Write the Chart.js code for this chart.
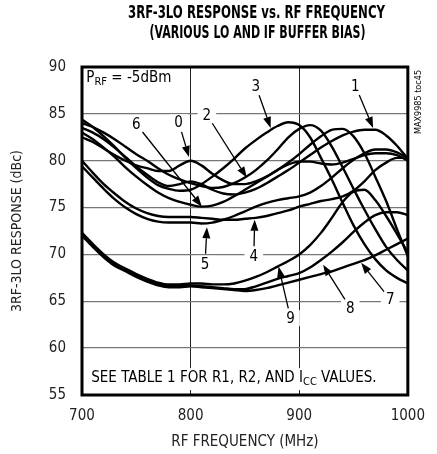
<!DOCTYPE html>
<html>
<head>
<meta charset="utf-8">
<script src="https://cdn.jsdelivr.net/npm/chart.js@4.4.1/dist/chart.umd.min.js"></script>
<style>
html,body{margin:0;padding:0;background:#fff;}
#wrap{width:437px;height:454px;position:relative;}
</style>
</head>
<body>
<div id="wrap"><canvas id="c" width="437" height="454"></canvas></div>
<script>
// ---- data ----
const freq = [700,710,720,730,740,750,760,770,780,790,800,810,820,830,840,850,860,870,880,890,900,910,920,930,940,950,960,970,980,990,1000];
const curve0 = [82.5,82.0,81.3,80.6,80.0,79.5,79.2,78.9,78.9,79.5,80.0,79.5,78.6,77.9,77.5,77.5,77.8,78.3,79.0,79.8,80.7,81.7,82.6,83.3,83.4,82.6,80.8,78.3,75.7,72.7,69.8];
const curve1 = [83.5,83.0,82.3,81.4,80.4,79.4,78.5,77.7,77.3,77.5,77.8,77.5,76.9,76.5,76.4,76.6,77.0,77.6,78.3,79.0,79.8,80.6,81.4,82.1,82.7,83.1,83.3,83.3,82.7,81.6,80.2];
const curve2 = [84.0,83.6,83.0,82.3,81.5,80.7,80.0,79.2,78.5,78.0,77.6,77.3,77.1,77.2,77.6,78.2,79.0,80.0,81.2,82.5,83.4,83.8,83.2,81.5,79.3,77.0,74.8,72.7,70.8,69.4,68.3];
const curve3 = [84.4,83.6,82.6,81.5,80.3,79.2,78.2,77.4,77.0,76.8,76.9,77.5,78.3,79.2,80.2,81.3,82.2,83.0,83.7,84.1,83.8,82.5,80.3,78.0,75.5,73.1,71.1,69.5,68.3,67.5,66.9];
const curve4 = [80.0,78.7,77.5,76.5,75.6,74.9,74.4,74.1,74.0,74.0,74.0,73.9,73.8,73.7,73.7,73.8,73.9,74.1,74.4,74.7,75.1,75.4,75.7,75.9,76.2,76.8,77.8,79.0,79.8,80.3,80.3];
const curve5 = [79.4,78.2,77.0,75.9,75.0,74.3,73.8,73.5,73.4,73.4,73.4,73.3,73.4,73.7,74.1,74.6,75.1,75.5,75.8,76.0,76.2,76.6,77.3,78.2,79.2,80.1,80.8,81.2,81.2,80.9,80.3];
const curve6 = [83.0,82.3,81.4,80.4,79.3,78.3,77.4,76.6,76.0,75.6,75.3,75.1,75.2,75.6,76.2,76.9,77.6,78.3,79.0,79.6,79.9,79.9,79.7,79.6,79.8,80.2,80.6,80.8,80.8,80.6,80.0];
const curve7 = [72.0,70.8,69.7,68.8,68.2,67.6,67.1,66.7,66.5,66.5,66.6,66.5,66.4,66.3,66.2,66.1,66.2,66.4,66.7,67.0,67.3,67.6,67.9,68.2,68.6,69.0,69.4,69.9,70.5,71.1,71.7];
const curve8 = [72.1,70.9,69.8,68.9,68.3,67.7,67.2,66.8,66.6,66.6,66.7,66.6,66.5,66.4,66.3,66.3,66.6,67.0,67.4,67.7,68.0,68.6,69.4,70.3,71.3,72.4,73.4,74.2,74.5,74.5,74.2];
const curve9 = [72.3,71.1,70.0,69.1,68.5,67.9,67.4,67.0,66.8,66.8,66.9,66.9,66.8,66.8,66.9,67.2,67.6,68.1,68.7,69.3,70.0,71.0,72.3,73.9,75.6,76.7,76.9,75.8,74.1,72.2,70.2];
const curves = [curve0,curve1,curve2,curve3,curve4,curve5,curve6,curve7,curve8,curve9];
const curveNames = ['0','1','2','3','4','5','6','7','8','9'];
const xTicks = [700,800,900,1000];
const yTicks = [55,60,65,70,75,80,85,90];

// curve labels: [text, label f, label dB, arrow-tip f, arrow-tip dB]
const labelText = ['0','6','2','3','1','5','4','9','8','7'];
const labelF    = [789,750,815,860,951.7,813.3,858.2,892,947,983.8];
const labelV    = [84.1,83.9,84.9,88.0,88.0,69.0,69.8,63.2,64.3,65.2];
const tipF      = [798.5,810.4,851.7,873.7,968,815,859,881,922,957];
const tipV      = [80.4,75.1,78.2,83.5,83.5,72.9,73.7,68.7,68.9,69.1];

const titleLines = ['3RF-3LO RESPONSE vs. RF FREQUENCY','(VARIOUS LO AND IF BUFFER BIAS)'];
const NARROW = '"Liberation Sans Narrow","Arial Narrow","DejaVu Sans Condensed",sans-serif';

function subText(ctx, parts, x, y, size){
  let cx = x;
  parts.forEach(([t,sub])=>{
    ctx.font = (sub? Math.round(size*0.72): size) + 'px ' + NARROW;
    ctx.fillText(t, cx, sub ? y + size*0.28 : y);
    cx += ctx.measureText(t).width;
  });
}

function fitText(ctx, text, cx, cy, width){
  const w = ctx.measureText(text).width;
  ctx.save();
  ctx.translate(cx, cy);
  ctx.scale(width / w, 1);
  ctx.fillText(text, 0, 0);
  ctx.restore();
}

const decor = {
  id:'decor',
  afterDatasetsDraw(chart){
    const {ctx, chartArea:a, scales:{x,y}} = chart;
    ctx.save();
    ctx.strokeStyle='#000'; ctx.lineWidth=3;
    ctx.strokeRect(a.left, a.top, a.right-a.left, a.bottom-a.top);
    ctx.font = '15px ' + NARROW;
    ctx.textAlign='center'; ctx.textBaseline='middle';
    for(let i=0;i<labelText.length;i++){
      const lx=x.getPixelForValue(labelF[i]), ly=y.getPixelForValue(labelV[i]);
      const tx=x.getPixelForValue(tipF[i]), ty=y.getPixelForValue(tipV[i]);
      const w = ctx.measureText(labelText[i]).width;
      ctx.fillStyle='#fff';
      ctx.fillRect(lx-w/2-5, ly-8, w+10, 16);
      ctx.fillStyle='#000';
      ctx.fillText(labelText[i], lx, ly+1);
      const dx=tx-lx, dy=ty-ly, L=Math.hypot(dx,dy), ux=dx/L, uy=dy/L;
      const sx=lx+ux*10, sy=ly+uy*10;
      const hx=tx-ux*11, hy=ty-uy*11;
      ctx.strokeStyle='#000'; ctx.lineWidth=1.3;
      ctx.beginPath(); ctx.moveTo(sx,sy); ctx.lineTo(hx,hy); ctx.stroke();
      ctx.beginPath();
      ctx.moveTo(tx,ty);
      ctx.lineTo(hx - uy*4, hy + ux*4);
      ctx.lineTo(hx + uy*4, hy - ux*4);
      ctx.closePath(); ctx.fill();
    }
    ctx.textAlign='left'; ctx.textBaseline='middle';
    const px = x.getPixelForValue(704), py = y.getPixelForValue(88.8);
    ctx.fillStyle='#fff';
    ctx.fillRect(px-2, py-9, 86, 20);
    ctx.fillStyle='#000';
    subText(ctx, [['P',false],['RF',true],[' = -5dBm',false]], px, py, 15);
    const sx2 = x.getPixelForValue(708.5), sy2 = y.getPixelForValue(56.8);
    ctx.fillStyle='#fff';
    ctx.fillRect(sx2-3, sy2-10, 290, 22);
    ctx.fillStyle='#000';
    subText(ctx, [['SEE TABLE 1 FOR R1, R2, AND I',false],['CC',true],[' VALUES.',false]], sx2, sy2, 15);
    ctx.save();
    ctx.translate(a.right+11, a.top+35);
    ctx.rotate(-Math.PI/2);
    ctx.textAlign='center'; ctx.textBaseline='middle';
    ctx.font='9px ' + NARROW;
    ctx.fillText('MAX9985 toc45',0,0);
    ctx.restore();
    ctx.textAlign='center'; ctx.textBaseline='middle';
    ctx.font='bold 17px ' + NARROW;
    fitText(ctx, titleLines[0], 256.5, 14, 257);
    fitText(ctx, titleLines[1], 257.5, 34, 216);
    ctx.restore();
  }
};

const datasets = curves.map((c,k)=>({
  label: curveNames[k],
  data: c.map((v,i)=>({x:freq[i], y:v})),
  borderColor:'#000', borderWidth:2.4, pointRadius:0, fill:false,
  cubicInterpolationMode:'monotone'
}));

new Chart(document.getElementById('c'), {
  type:'line',
  data:{datasets},
  options:{
    responsive:false, animation:false, devicePixelRatio:1,
    layout:{padding:{top:67,right:27,bottom:0,left:0}},
    plugins:{legend:{display:false}, tooltip:{enabled:false}, title:{display:false}},
    scales:{
      x:{type:'linear', min:700, max:1000,
         afterBuildTicks:(s)=>{s.ticks = xTicks.map(v=>({value:v}));},
         afterFit:(s)=>{s.height=59;},
         ticks:{font:{size:15, family:NARROW}, color:'#222', padding:12, maxRotation:0, callback:(v)=>String(v)},
         grid:{color:'#222', lineWidth:1, drawTicks:false},
         border:{display:false},
         title:{display:true, text:'RF FREQUENCY (MHz)', font:{size:15, family:NARROW}, color:'#222', padding:{top:0,bottom:3}}
      },
      y:{type:'linear', min:55, max:90,
         afterBuildTicks:(s)=>{s.ticks = yTicks.map(v=>({value:v}));},
         afterFit:(s)=>{s.width=82;},
         ticks:{font:{size:15, family:NARROW}, color:'#222', padding:16, callback:(v)=>String(v)},
         grid:{color:'#777', lineWidth:1.3, drawTicks:false},
         border:{display:false},
         title:{display:true, text:'3RF-3LO RESPONSE (dBc)', font:{size:14, family:NARROW}, color:'#222', padding:{top:9,bottom:0}}
      }
    }
  },
  plugins:[decor]
});
</script>
</body>
</html>
